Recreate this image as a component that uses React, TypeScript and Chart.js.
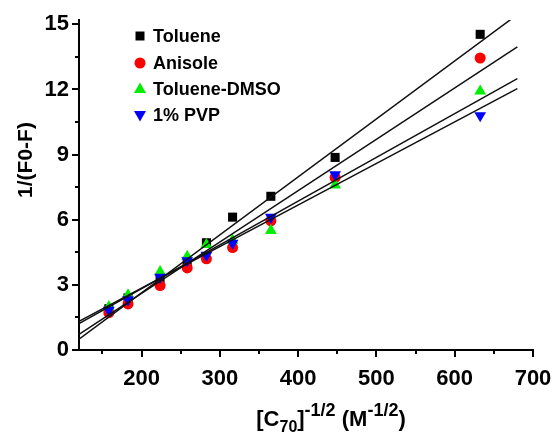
import React, { useEffect, useRef } from 'react';
import { Chart, registerables } from 'chart.js';

Chart.register(...registerables);

// concentration axis values [C70]^-1/2
const xValues = [158.1, 182.6, 223.6, 258.2, 282.8, 316.2, 365.1, 447.2, 632.5];
const toluene = [1.9, 2.4, 3.3, 4.06, 4.94, 6.12, 7.08, 8.87, 14.54];
const anisole = [1.72, 2.12, 2.97, 3.78, 4.2, 4.72, 5.95, 7.95, 13.45];
const tolueneDmso = [1.99, 2.53, 3.6, 4.3, 4.85, 5.05, 5.5, 7.6, 11.92];
const pvp = [1.84, 2.32, 3.35, 4.12, 4.37, 4.92, 6.12, 8.08, 10.8];

// fitted lines read at both ends
const fitX = [120, 680];
const fitToluene = [0.5, 15.45];
const fitAnisole = [0.72, 13.96];
const fitDmso = [1.22, 12.5];
const fitPvp = [1.32, 12.04];

const seriesNames = ['Toluene', 'Anisole', 'Toluene-DMSO', '1% PVP'];
const seriesColors = ['#000000', '#ff0000', '#00ee00', '#0000ff'];

const xMajorTicks = [200, 300, 400, 500, 600, 700];
const xMinorTicks = [150, 250, 350, 450, 550, 650];
const yMajorTicks = [0, 3, 6, 9, 12, 15];
const yMinorTicks = [1.5, 4.5, 7.5, 10.5, 13.5];

const FONT = '"Liberation Sans", Arial, sans-serif';

const toPts = (xs: number[], ys: number[]) => xs.map((x, i) => ({ x, y: ys[i] }));

function drawMarker(ctx: CanvasRenderingContext2D, kind: number, x: number, y: number, color: string) {
  ctx.save();
  ctx.fillStyle = color;
  ctx.beginPath();
  if (kind === 0) {
    ctx.rect(x - 4.5, y - 4.5, 9, 9);
  } else if (kind === 1) {
    ctx.arc(x, y, 5.5, 0, Math.PI * 2);
  } else if (kind === 2) {
    ctx.moveTo(x, y - 6.5);
    ctx.lineTo(x + 6, y + 4);
    ctx.lineTo(x - 6, y + 4);
  } else {
    ctx.moveTo(x, y + 6.5);
    ctx.lineTo(x + 6, y - 4);
    ctx.lineTo(x - 6, y - 4);
  }
  ctx.closePath();
  ctx.fill();
  ctx.restore();
}

const decorPlugin = {
  id: 'decor',
  afterDraw(chart: any) {
    const ctx: CanvasRenderingContext2D = chart.ctx;
    const xs = chart.scales.x;
    const ys = chart.scales.y;
    const area = chart.chartArea;
    ctx.save();
    ctx.strokeStyle = '#000';
    ctx.lineWidth = 2;
    const drawX = (v: number, len: number) => {
      const px = Math.round(xs.getPixelForValue(v));
      ctx.beginPath();
      ctx.moveTo(px, area.bottom);
      ctx.lineTo(px, area.bottom + len);
      ctx.stroke();
    };
    xMajorTicks.forEach((v) => drawX(v, 7));
    xMinorTicks.forEach((v) => drawX(v, 4));
    const drawY = (v: number, len: number) => {
      const py = Math.round(ys.getPixelForValue(v));
      ctx.beginPath();
      ctx.moveTo(area.left, py);
      ctx.lineTo(area.left - len, py);
      ctx.stroke();
    };
    yMajorTicks.forEach((v) => drawY(v, 7));
    yMinorTicks.forEach((v) => drawY(v, 4));

    // legend
    const legendX = 140;
    const legendY = [36, 63, 89, 115];
    ctx.font = `bold 18px ${FONT}`;
    ctx.textBaseline = 'middle';
    ctx.textAlign = 'left';
    seriesNames.forEach((name, i) => {
      drawMarker(ctx, i, legendX, legendY[i], seriesColors[i]);
      ctx.fillStyle = '#000';
      ctx.fillText(name, legendX + 13, legendY[i] + 1);
    });

    // y title
    ctx.save();
    ctx.translate(26, 160);
    ctx.rotate(-Math.PI / 2);
    ctx.font = `bold 21px ${FONT}`;
    ctx.textAlign = 'center';
    ctx.textBaseline = 'middle';
    ctx.fillStyle = '#000';
    ctx.fillText('1/(F0-F)', 0, 0);
    ctx.restore();

    // x title with sub/superscripts
    const parts: { t: string; size: number; dy: number }[] = [
      { t: '[C', size: 22, dy: 0 },
      { t: '70', size: 16, dy: 6 },
      { t: ']', size: 22, dy: 0 },
      { t: '-1/2', size: 18, dy: -10 },
      { t: ' (M', size: 22, dy: 0 },
      { t: '-1/2', size: 18, dy: -10 },
      { t: ')', size: 22, dy: 0 },
    ];
    let total = 0;
    parts.forEach((p) => {
      ctx.font = `bold ${p.size}px ${FONT}`;
      total += ctx.measureText(p.t).width;
    });
    let cx = 331 - total / 2;
    const baseY = 426;
    ctx.textAlign = 'left';
    ctx.textBaseline = 'alphabetic';
    ctx.fillStyle = '#000';
    parts.forEach((p) => {
      ctx.font = `bold ${p.size}px ${FONT}`;
      ctx.fillText(p.t, cx, baseY + p.dy);
      cx += ctx.measureText(p.t).width;
    });
    ctx.restore();
  },
};

export default function App() {
  const ref = useRef<HTMLCanvasElement | null>(null);
  useEffect(() => {
    if (!ref.current) return;
    const pointStyles = ['rect', 'circle', 'triangle', 'triangle'];
    const rotations = [0, 0, 0, 180];
    const radii = [6.4, 5.5, 6.8, 6.8];
    const pointData = [toluene, anisole, tolueneDmso, pvp];
    const fits = [fitToluene, fitAnisole, fitDmso, fitPvp];
    const datasets: any[] = [];
    fits.forEach((f, i) => {
      datasets.push({
        label: seriesNames[i] + ' fit',
        data: toPts(fitX, f),
        showLine: true,
        borderColor: '#111',
        borderWidth: 1.5,
        pointRadius: 0,
        order: 0,
      });
    });
    pointData.forEach((d, i) => {
      datasets.push({
        label: seriesNames[i],
        data: toPts(xValues, d),
        showLine: false,
        pointStyle: pointStyles[i],
        rotation: rotations[i],
        pointRadius: radii[i],
        pointBackgroundColor: seriesColors[i],
        pointBorderColor: seriesColors[i],
        pointBorderWidth: 0,
        order: 4 - i,
      });
    });
    const chart = new Chart(ref.current, {
      type: 'scatter',
      data: { datasets },
      options: {
        animation: false,
        responsive: false,
        layout: { padding: { top: 20, right: 20, left: 0, bottom: 0 } },
        plugins: { legend: { display: false }, tooltip: { enabled: false } },
        scales: {
          x: {
            type: 'linear',
            min: 120,
            max: 700,
            afterFit: (s: any) => { s.height = 83; },
            afterBuildTicks: (s: any) => { s.ticks = xMajorTicks.map((v) => ({ value: v })); },
            grid: { display: false, drawTicks: true, tickLength: 16 },
            border: { display: true, color: '#000', width: 2 },
            ticks: {
              color: '#000',
              font: { family: FONT, size: 22, weight: 'bold' },
              padding: 0,
              maxRotation: 0,
              autoSkip: false,
            },
          },
          y: {
            type: 'linear',
            min: 0,
            max: 15.2,
            afterFit: (s: any) => { s.width = 79; },
            afterBuildTicks: (s: any) => { s.ticks = yMajorTicks.map((v) => ({ value: v })); },
            grid: { display: false, drawTicks: true, tickLength: 10 },
            border: { display: true, color: '#000', width: 2 },
            ticks: {
              color: '#000',
              font: { family: FONT, size: 22, weight: 'bold' },
              padding: 0,
              autoSkip: false,
            },
          },
        },
      },
      plugins: [decorPlugin],
    });
    return () => chart.destroy();
  }, []);
  return (
    <div style={{ position: 'fixed', left: 0, top: 0, width: 553, height: 433, background: '#fff' }}>
      <canvas ref={ref} width={553} height={433} style={{ display: 'block' }} />
    </div>
  );
}
